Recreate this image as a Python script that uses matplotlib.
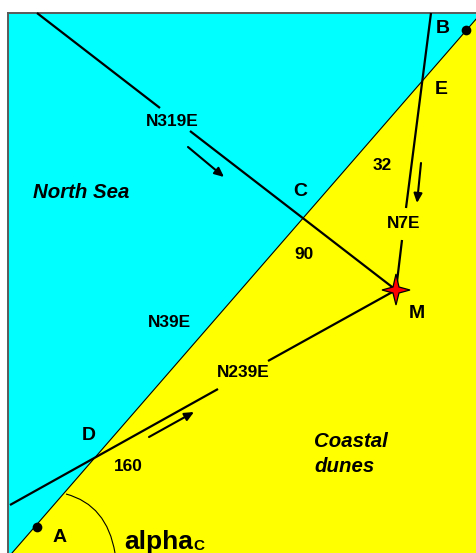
import matplotlib
matplotlib.use('Agg')
import matplotlib.pyplot as plt
from matplotlib.path import Path
from matplotlib.patches import PathPatch, Polygon

plt.rcParams['font.family'] = ['Liberation Sans', 'DejaVu Sans']

# Map geometry (pixel-like map coordinates)
sea_x = [8, 8, 477, 477, 12]
sea_y = [553, 13, 13, 18, 553]
dunes_x = [12, 477, 477]
dunes_y = [553, 18, 553]
coast_x = [12, 477]
coast_y = [553, 18]

profiles = {
    'N319E': ([(37, 13), (160, 108)], [(190, 131), (396, 290)]),
    'N7E': ([(431, 13), (406, 208)], [(402, 240), (396, 290)]),
    'N239E': ([(10, 505), (218, 389)], [(268, 361), (396, 290)]),
}
arrows = [((188, 147), (224, 177)), ((421, 163), (417, 203)), ((149, 437), (194, 412))]
points_x = [37, 466]
points_y = [527, 30]
star_x = [396, 399, 410, 399, 396, 393, 382, 393]
star_y = [274, 287, 290, 293, 305, 293, 290, 287]
arc_x = [66, 107, 115]
arc_y = [494, 505, 553]

labels = ['N319E', 'N7E', 'N239E', 'N39E', '32', '90', '160']
labels_x = [172.5, 404, 243, 169, 382, 304, 128]
labels_y = [121.5, 223.5, 372.5, 322.5, 165.5, 254.5, 466.5]
letters = ['A', 'B', 'C', 'D', 'E', 'M']
letters_x = [60, 443, 300, 89, 441, 417]
letters_y = [537, 28.5, 192, 436, 89.5, 313]

fig = plt.figure(figsize=(4.77, 5.53), dpi=100)
ax = fig.add_axes([0, 0, 1, 1])
ax.set_xlim(0, 477)
ax.set_ylim(553, 0)
ax.axis('off')

ax.add_patch(Polygon(list(zip(sea_x, sea_y)), closed=True, fc='#00FFFF', ec='none', zorder=1))
ax.add_patch(Polygon(list(zip(dunes_x, dunes_y)), closed=True, fc='#FFFF00', ec='none', zorder=1))
ax.plot([8, 8], [553, 13], color='#5a5a5a', lw=1.4, zorder=2, solid_capstyle='projecting')
ax.plot([8, 477], [13, 13], color='#5a5a5a', lw=1.4, zorder=2)
ax.plot(coast_x, coast_y, color='black', lw=0.8, zorder=3)

for segs in profiles.values():
    for (a, b) in segs:
        ax.plot([a[0], b[0]], [a[1], b[1]], color='black', lw=1.6, zorder=4, solid_capstyle='butt')

for s, e in arrows:
    ax.annotate('', xy=e, xytext=s, zorder=5,
                arrowprops=dict(arrowstyle='-|>,head_length=0.55,head_width=0.25', color='black',
                                lw=1.5, shrinkA=0, shrinkB=0))

ax.plot(points_x, points_y, 'o', color='black', ms=7, mew=0, zorder=5)
ax.add_patch(Polygon(list(zip(star_x, star_y)), closed=True, fc='#FF0000', ec='black', lw=0.9, zorder=6))
ax.add_patch(PathPatch(Path(list(zip(arc_x, arc_y)), [Path.MOVETO, Path.CURVE3, Path.CURVE3]),
                       fc='none', ec='black', lw=0.8, zorder=3))

for t, x, y in zip(labels, labels_x, labels_y):
    ax.text(x, y, t, fontsize=12.4, fontweight='bold', ha='center', va='center', zorder=7)
for t, x, y in zip(letters, letters_x, letters_y):
    ax.text(x, y, t, fontsize=14, fontweight='bold', ha='center', va='center', zorder=7)

ax.text(81.5, 192.5, 'North Sea', fontsize=14.7, fontweight='bold', style='italic', ha='center', va='center', zorder=7)
ax.text(314, 441.5, 'Coastal', fontsize=14.7, fontweight='bold', style='italic', ha='left', va='center', zorder=7)
ax.text(314, 466.5, 'dunes', fontsize=14.7, fontweight='bold', style='italic', ha='left', va='center', zorder=7)
ax.text(124, 548.5, 'alpha', fontsize=19, fontweight='bold', ha='left', va='baseline', zorder=7)
ax.text(193, 550.5, 'C', fontsize=11, fontweight='bold', ha='left', va='baseline', zorder=7)

fig.savefig('out.png', dpi=100, facecolor='white')
